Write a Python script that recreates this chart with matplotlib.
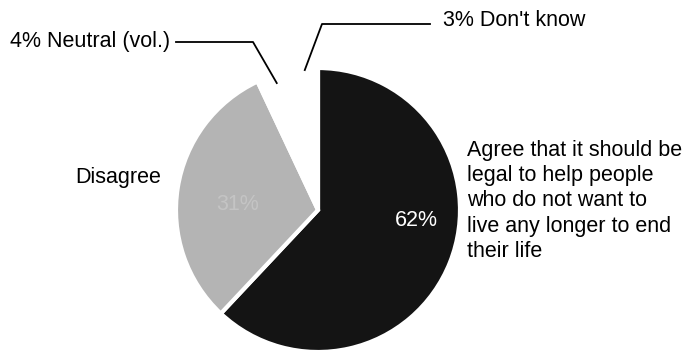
import numpy as np
import matplotlib
matplotlib.use("Agg")
import matplotlib.pyplot as plt

# survey shares, clockwise from 12 o'clock
labels = ["Agree", "Disagree", "Neutral (vol.)", "Don't know"]
shares = [62, 31, 4, 3]
colors = ["#141414", "#b4b4b4", "white", "white"]

agree_text = ("Agree that it should be\nlegal to help people\nwho do not want to\n"
              "live any longer to end\ntheir life")

plt.rcParams["font.family"] = ["Liberation Sans", "DejaVu Sans"]

W, H = 698, 352
fig = plt.figure(figsize=(W / 100, H / 100), dpi=100)
ax = fig.add_axes([0, 0, 1, 1])

def Y(py):
    # image rows -> data y
    return H - py

cx, cy, r = 318, Y(210), 142
wedges, _ = ax.pie(shares, colors=colors, startangle=90, counterclock=False,
                   center=(cx, cy), radius=r,
                   wedgeprops=dict(edgecolor="white", linewidth=3))
ax.set_xlim(0, W)
ax.set_ylim(0, H)
ax.set_aspect("equal")
ax.axis("off")

def edge_point(w, frac=0.95):
    t = np.deg2rad((w.theta1 + w.theta2) / 2)
    return cx + r * frac * np.cos(t), cy + r * frac * np.sin(t)

fs = 15.5

# percentage labels inside slices
ax.text(416, Y(220), f"{shares[0]}%", color="white",
        fontsize=fs, ha="center", va="center")
ax.text(238, Y(205), f"{shares[1]}%", color="#c4c4c4", fontsize=fs,
        ha="center", va="center")

# Disagree label
ax.text(118, Y(178), labels[1], fontsize=fs, ha="center", va="center")

# Agree label
ax.text(467, Y(201), agree_text, fontsize=fs, ha="left", va="center",
        linespacing=1.28)

# Neutral leader
px, py = edge_point(wedges[2], 0.94)
ax.plot([176, 253, px], [Y(42), Y(42), py], color="black", lw=1.3)
ax.text(170, Y(41), f"{shares[2]}% {labels[2]}", fontsize=fs, ha="right", va="center")

# Don't know leader
px, py = edge_point(wedges[3], 0.99)
ax.plot([px, 322, 430], [py, Y(24), Y(24)], color="black", lw=1.3)
ax.text(443, Y(20), f"{shares[3]}% {labels[3]}", fontsize=fs, ha="left", va="center")

fig.savefig("out.png", dpi=100)
